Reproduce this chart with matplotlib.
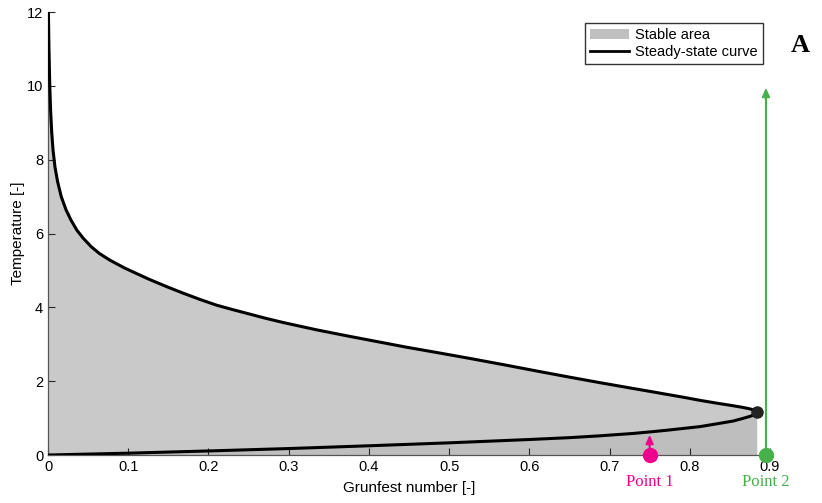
import matplotlib

matplotlib.use("Agg")
import matplotlib.pyplot as plt
from matplotlib.patches import Patch
from matplotlib.lines import Line2D

plt.rcParams["font.family"] = ["Liberation Sans", "DejaVu Sans"]

# steady-state curve: lower branch -> tip -> upper branch
grunfest = [0.0, 0.1, 0.2, 0.3, 0.4, 0.5, 0.6, 0.650, 0.688, 0.730, 0.750, 0.771, 0.792,
            0.813, 0.835, 0.854, 0.866, 0.874, 0.880, 0.883,
            0.884,
            0.883, 0.880, 0.874, 0.866, 0.854, 0.835, 0.813, 0.792, 0.771, 0.750, 0.730,
            0.709, 0.688, 0.650, 0.613, 0.572, 0.530, 0.489, 0.447, 0.406, 0.377, 0.356,
            0.335, 0.314, 0.293, 0.272, 0.251, 0.230, 0.210, 0.190, 0.169, 0.148, 0.125,
            0.096, 0.077, 0.064, 0.054, 0.044, 0.036, 0.0285, 0.0225, 0.0165, 0.0120,
            0.0087, 0.0063, 0.0046, 0.0033, 0.0022, 0.0012, 0.0005]
temperature = [0.0, 0.05, 0.11, 0.175, 0.25, 0.33, 0.42, 0.47, 0.52, 0.585, 0.625, 0.67, 0.72,
               0.77, 0.85, 0.92, 0.99, 1.04, 1.085, 1.12,
               1.16,
               1.19, 1.22, 1.255, 1.29, 1.335, 1.40, 1.48, 1.565, 1.645, 1.725, 1.80,
               1.88, 1.96, 2.11, 2.26, 2.43, 2.60, 2.76, 2.92, 3.09, 3.21, 3.30,
               3.39, 3.49, 3.59, 3.70, 3.82, 3.94, 4.06, 4.21, 4.38, 4.56, 4.77,
               5.06, 5.28, 5.46, 5.64, 5.87, 6.09, 6.37, 6.64, 7.0, 7.4,
               7.8, 8.25, 8.75, 9.3, 10.0, 11.0, 12.0]
tip_index = 20

point_x = [0.75, 0.895]
point_labels = ["Point 1", "Point 2"]
point_colors = ["#ec008c", "#46b04a"]
arrow_from = [0.18, 0.0]
arrow_to = [0.55, 9.95]

fig = plt.figure(figsize=(8.22, 5.03), dpi=100)
ax = fig.add_axes([0.0584, 0.0954, 0.8783, 0.8807])

tip_x, tip_y = grunfest[tip_index], temperature[tip_index]

# stable area: everything under the upper branch, down to zero
upper_x = grunfest[tip_index:]
upper_y = temperature[tip_index:]
ax.fill(list(upper_x) + [0.0, 0.0, tip_x], list(upper_y) + [12.0, 0.0, 0.0],
        color="#c9c9c9", lw=0, zorder=1)
lower_x = grunfest[:tip_index + 1]
lower_y = temperature[:tip_index + 1]
ax.fill(list(lower_x) + [tip_x], list(lower_y) + [0.0], color="#bebebe", lw=0, zorder=1)

ax.plot(grunfest, temperature, color="black", lw=2.2, zorder=3,
        solid_capstyle="round", solid_joinstyle="round")
ax.plot([tip_x], [tip_y], "o", color="#222222", ms=8, zorder=4)

for x, lab, col, y0, y1 in zip(point_x, point_labels, point_colors, arrow_from, arrow_to):
    ax.annotate("", xy=(x, y1), xytext=(x, y0),
                arrowprops=dict(arrowstyle="-|>,head_length=0.5,head_width=0.22", color=col, lw=1.5,
                                shrinkA=0, shrinkB=0), zorder=5)
    ax.plot([x], [0], "o", color=col, ms=10, zorder=6, clip_on=False)
    ax.text(x, -0.72, lab, color=col, ha="center", va="center",
            fontsize=12, family=["Liberation Serif", "DejaVu Serif"])

ax.set_xlim(0, 0.9)
ax.set_ylim(0, 12)
ax.set_xticks([0, 0.1, 0.2, 0.3, 0.4, 0.5, 0.6, 0.7, 0.8, 0.9])
ax.set_xticklabels(["0", "0.1", "0.2", "0.3", "0.4", "0.5", "0.6", "0.7", "0.8", "0.9"])
ax.set_yticks([0, 2, 4, 6, 8, 10, 12])
ax.tick_params(direction="in", length=5, labelsize=10.5, colors="#262626", labelcolor="black")
for side in ["top", "right"]:
    ax.spines[side].set_visible(False)
for side in ["left", "bottom"]:
    ax.spines[side].set_color("#555555")
    ax.spines[side].set_linewidth(0.9)

ax.set_xlabel("Grunfest number [-]", fontsize=11, labelpad=5)
ax.set_ylabel("Temperature [-]", fontsize=11, labelpad=1)

handles = [Patch(facecolor="#c0c0c0", edgecolor="none"), Line2D([], [], color="black", lw=2)]
ax.legend(handles, ["Stable area", "Steady-state curve"], loc="upper right",
          bbox_to_anchor=(0.99, 0.975), fontsize=10.5, frameon=True, fancybox=False,
          edgecolor="#333333", framealpha=1, borderpad=0.35, handlelength=2.7,
          handletextpad=0.4, labelspacing=0.2, borderaxespad=0)

fig.text(800 / 822, 1 - 45 / 503, "A", fontsize=19, fontweight="bold", ha="center", va="center",
         family=["Liberation Serif", "DejaVu Serif"])

fig.savefig("out.png", dpi=100)
